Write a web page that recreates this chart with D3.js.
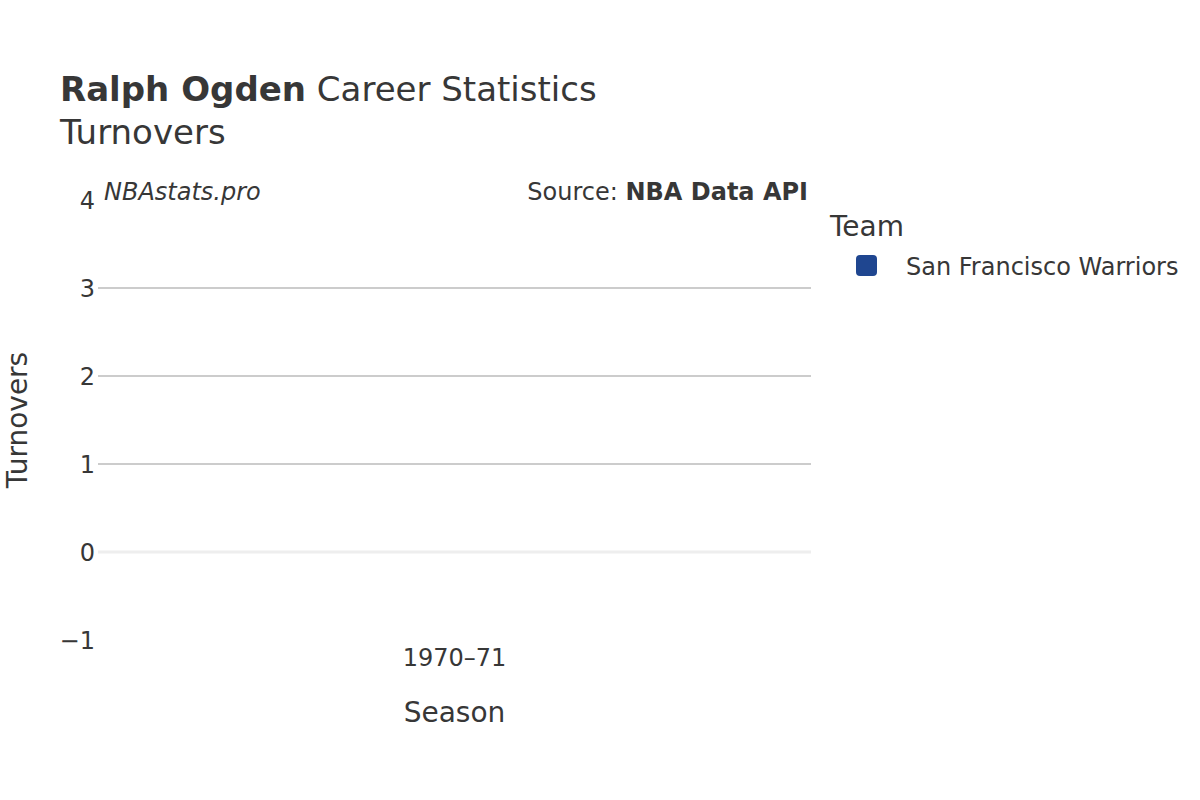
<!DOCTYPE html>
<meta charset="utf-8">
<head>
<style>
body{margin:0;background:#fff;}
text{font-family:"DejaVu Sans",sans-serif;fill:#373737;}
.grid line{stroke:#bbb;stroke-width:1.5px;}
.zero{stroke:#eee;stroke-width:3px;}
.title{font-size:34px;}
.axisTitle{font-size:28px;}
.note{font-size:24px;}
</style>
</head>
<body>
<script src="https://cdn.jsdelivr.net/npm/d3@7"></script>
<script>

var seasons=["1970–71"];
var turnovers=[null];
var teams=["San Francisco Warriors"];
var teamColor=["#1f4690"];
var yTicks=[-1,0,1,2,3,4];

var W=1200,H=800;
var m={left:98,right:389,top:200,bottom:160};

var svg=d3.select("body").append("svg").attr("width",W).attr("height",H);

var x=d3.scaleBand().domain(seasons).range([m.left,W-m.right]).padding(0.2);
var y=d3.scaleLinear().domain([-1,4]).range([H-m.bottom,m.top]);

// gridlines (not at the edges)
svg.append("g").attr("class","grid")
	.selectAll("line").data(yTicks.filter(d=>d>0&&d<4)).enter().append("line")
	.attr("x1",m.left).attr("x2",W-m.right)
	.attr("y1",d=>y(d)).attr("y2",d=>y(d));

svg.append("line").attr("class","zero")
	.attr("x1",m.left).attr("x2",W-m.right)
	.attr("y1",y(0)).attr("y2",y(0));

// bars (none have values)
var data=seasons.map((s,i)=>({season:s,value:turnovers[i],team:teams[0]}));
svg.append("g").selectAll("rect").data(data.filter(d=>d.value!=null)).enter().append("rect")
	.attr("x",d=>x(d.season)).attr("width",x.bandwidth())
	.attr("y",d=>y(Math.max(0,d.value))).attr("height",d=>Math.abs(y(d.value)-y(0)))
	.attr("fill",teamColor[0]);

// axes
var yAxis=d3.axisLeft(y).tickValues(yTicks).tickSize(0).tickPadding(3)
	.tickFormat(d=>d<0?"\u2212"+Math.abs(d):d);
var gy=svg.append("g").attr("transform","translate("+m.left+",0)").call(yAxis);
gy.select(".domain").remove();
gy.selectAll(".tick text").attr("dy","0.36em");

var xAxis=d3.axisBottom(x).tickSize(0).tickPadding(0);
var gx=svg.append("g").attr("transform","translate(0,"+(H-m.bottom)+")").call(xAxis);
gx.select(".domain").remove();
gx.selectAll(".tick text").attr("dy","1.1em");

svg.selectAll(".tick text").style("font-family","DejaVu Sans").style("fill","#373737").style("font-size","24px");

// titles
var t=svg.append("text").attr("class","title").attr("x",60).attr("y",101);
t.append("tspan").style("font-weight","bold").text("Ralph Ogden");
t.append("tspan").text(" Career Statistics");
svg.append("text").attr("class","title").attr("x",60).attr("y",144).text("Turnovers");

svg.append("text").attr("class","axisTitle").attr("text-anchor","middle")
	.attr("x",(m.left+W-m.right)/2).attr("y",722).text("Season");
svg.append("text").attr("class","axisTitle").attr("text-anchor","middle")
	.attr("transform","translate(27,"+y(1.5)+") rotate(-90)").text("Turnovers");

svg.append("text").attr("class","note").attr("x",104).attr("y",200)
	.style("font-style","italic").text("NBAstats.pro");
var src=svg.append("text").attr("class","note").attr("x",808).attr("y",200).attr("text-anchor","end");
src.append("tspan").text("Source: ");
src.append("tspan").style("font-weight","bold").text("NBA Data API");

// legend
svg.append("text").attr("class","axisTitle").attr("x",830).attr("y",236).text("Team");
var lg=svg.append("g").selectAll("g").data(teams).enter().append("g")
	.attr("transform",(d,i)=>"translate(856,"+(255+i*30)+")");
lg.append("rect").attr("width",21).attr("height",21).attr("rx",4)
	.attr("fill",(d,i)=>teamColor[i]);
lg.append("text").attr("x",50).attr("y",20).style("font-size","24px").text(d=>d);

</script>
</body>
